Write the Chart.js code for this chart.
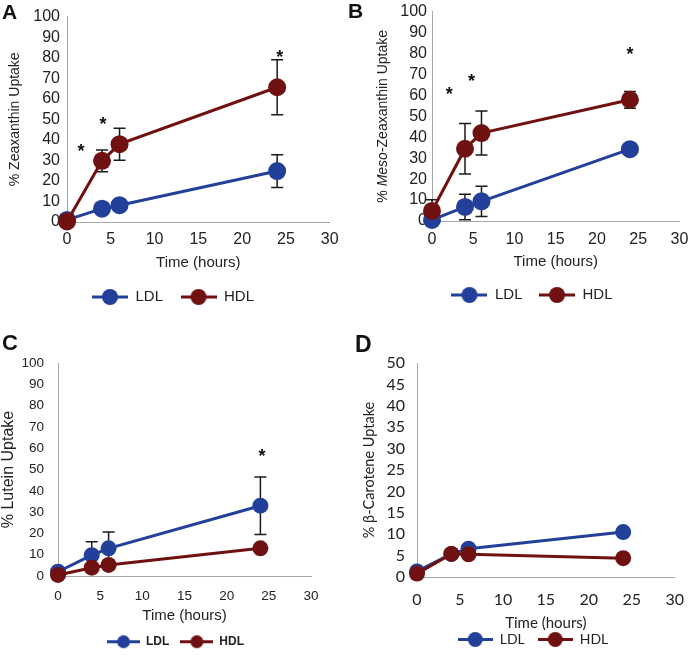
<!DOCTYPE html>
<html><head><meta charset="utf-8">
<script src="https://cdn.jsdelivr.net/npm/chart.js@4.4.1/dist/chart.umd.min.js"></script>
<style>
html,body{margin:0;padding:0;background:#fff;width:697px;height:665px;overflow:hidden;}
.panel{position:absolute;}
.panel canvas{display:block;}
.letter{position:absolute;z-index:5;font-family:"Liberation Sans",Arial,sans-serif;font-weight:bold;line-height:1;color:#111;}
</style></head><body>
<div class="panel" style="left:0px;top:0px"><canvas id="cA" width="347" height="320"></canvas></div>
<div class="panel" style="left:347px;top:-3px"><canvas id="cB" width="350" height="323"></canvas></div>
<div class="panel" style="left:0px;top:320px"><canvas id="cC" width="360" height="345"></canvas></div>
<div class="panel" style="left:347px;top:320px"><canvas id="cD" width="350" height="345"></canvas></div>
<div class="letter" style="left:2px;top:1px;font-size:21px">A</div>
<div class="letter" style="left:348px;top:0px;font-size:21px">B</div>
<div class="letter" style="left:2px;top:332px;font-size:22px">C</div>
<div class="letter" style="left:355px;top:333px;font-size:23px">D</div>
<script>
// ---------- data ----------
const timeHours = [0, 4, 6, 24];
const xTickValues = [0, 5, 10, 15, 20, 25, 30];
const yTicks100 = [0, 10, 20, 30, 40, 50, 60, 70, 80, 90, 100];
const yTicks50 = [0, 5, 10, 15, 20, 25, 30, 35, 40, 45, 50];
const seriesLabels = ['LDL', 'HDL'];

// A: Zeaxanthin
const zeaLDL = [1.0, 6.5, 8.2, 24.8];
const zeaLDLErr = [0, 0, 0, 8.0];
const zeaHDL = [0.3, 29.8, 37.9, 65.6];
const zeaHDLErr = [0, 5.3, 7.8, 13.4];
const zeaStarX = [1.6, 4.1, 24.3];
const zeaStarY = [36.4, 49.7, 82.5];

// B: Meso-Zeaxanthin
const mesoLDL = [0.5, 6.7, 9.4, 34.3];
const mesoLDLErr = [0, 6.1, 7.2, 0];
const mesoHDL = [4.8, 34.5, 42.0, 57.9];
const mesoHDLErr = [5.3, 12.1, 10.5, 4.0];
const mesoStarX = [2.1, 4.8, 24.0];
const mesoStarY = [62.7, 68.9, 81.7];

// C: Lutein
const luteinLDL = [2.0, 9.8, 13.0, 33.0];
const luteinLDLErr = [0, 6.3, 7.6, 13.5];
const luteinHDL = [0.5, 3.9, 5.2, 13.0];
const luteinHDLErr = [0, 0, 0, 0];
const luteinStarX = [24.2];
const luteinStarY = [58.3];

// D: beta-Carotene
const caroteneLDL = [1.3, 5.4, 6.6, 10.5];
const caroteneHDL = [0.8, 5.4, 5.3, 4.4];

// ---------- styling ----------
const BLUE = '#22409A';
const RED = '#701111';
const TEXT = '#222222';
const AXIS = '#a6a6a6';
const ARIAL = '"Liberation Sans", Arial, sans-serif';
const LATO = 'Lato, "Open Sans", sans-serif';

function makeIcon(color, r, lw, w) {
  const c = document.createElement('canvas');
  c.width = w; c.height = Math.ceil(2 * r + 2);
  const g = c.getContext('2d');
  const cy = c.height / 2;
  g.strokeStyle = color; g.lineWidth = lw;
  g.beginPath(); g.moveTo(0, cy); g.lineTo(w, cy); g.stroke();
  g.fillStyle = color;
  g.beginPath(); g.arc(w / 2, cy, r, 0, Math.PI * 2); g.fill();
  return c;
}

const decor = {
  id: 'decor',
  beforeDatasetsDraw(chart, args, opts) {
    const {ctx} = chart;
    const xs = chart.scales.x, ys = chart.scales.y;
    ctx.save();
    ctx.strokeStyle = '#1a1a1a';
    ctx.lineWidth = 1.5;
    chart.data.datasets.forEach((ds) => {
      if (!ds.errors) return;
      ds.data.forEach((pt, j) => {
        const e = ds.errors[j];
        if (!e) return;
        const px = xs.getPixelForValue(pt.x);
        const pTop = ys.getPixelForValue(pt.y + e);
        const pBot = ys.getPixelForValue(Math.max(0, pt.y - e));
        ctx.beginPath();
        ctx.moveTo(px, pTop); ctx.lineTo(px, pBot);
        ctx.moveTo(px - 6, pTop); ctx.lineTo(px + 6, pTop);
        ctx.moveTo(px - 6, pBot); ctx.lineTo(px + 6, pBot);
        ctx.stroke();
      });
    });
    ctx.restore();
  },
  afterDatasetsDraw(chart, args, opts) {
    const {ctx} = chart;
    const xs = chart.scales.x, ys = chart.scales.y;
    if (opts.starX) {
      ctx.save();
      const size = 18;
      ctx.font = 'bold ' + size + 'px ' + ARIAL;
      ctx.fillStyle = '#111';
      ctx.textAlign = 'center';
      ctx.textBaseline = 'alphabetic';
      opts.starX.forEach((sx, i) => {
        const px = xs.getPixelForValue(sx);
        const py = ys.getPixelForValue(opts.starY[i]);
        ctx.fillText('*', px, py + 0.57 * size);
      });
      ctx.restore();
    }
    if (opts.yTitleParts) {
      const ca = chart.chartArea;
      ctx.save();
      ctx.translate(opts.yTitleX, (ca.top + ca.bottom) / 2);
      ctx.rotate(-Math.PI / 2);
      ctx.fillStyle = TEXT;
      ctx.textBaseline = 'middle';
      ctx.textAlign = 'left';
      let total = 0;
      opts.yTitleParts.forEach(p => { ctx.font = p.font; total += ctx.measureText(p.text).width; });
      let x = -total / 2;
      opts.yTitleParts.forEach(p => { ctx.font = p.font; ctx.fillText(p.text, x, 0); x += ctx.measureText(p.text).width; });
      ctx.restore();
    }
  }
};

function makePanel(cfg) {
  const datasets = cfg.series.map(s => ({
    label: s.label,
    data: timeHours.map((t, i) => ({x: t, y: s.values[i]})),
    errors: s.errors,
    borderColor: s.color,
    backgroundColor: s.color,
    pointBackgroundColor: s.color,
    pointBorderColor: s.color,
    pointBorderWidth: 0,
    pointRadius: cfg.pointR,
    pointHoverRadius: cfg.pointR,
    borderWidth: cfg.lineW,
    tension: 0,
    clip: false,
    order: s.order,
    legendIcon: makeIcon(s.color, cfg.iconR, cfg.lineW, cfg.iconW)
  }));
  const yTitle = cfg.yTitle ? {
    display: true, text: cfg.yTitle, color: TEXT, font: cfg.yTitleFont,
    padding: {top: cfg.yTitlePad, bottom: 0}
  } : {display: false};
  const scales = {
    x: {
      type: 'linear', min: 0, max: 30,
      afterBuildTicks: s => { s.ticks = xTickValues.map(v => ({value: v})); },
      afterFit: s => { s.height = cfg.xH; },
      grid: {display: false, drawTicks: false},
      border: {display: true, color: AXIS, width: 1},
      ticks: {padding: cfg.xTickPad, font: cfg.tickFont, color: TEXT, maxRotation: 0, autoSkip: false},
      title: {display: true, text: 'Time (hours)', color: TEXT, font: cfg.xTitleFont,
              padding: {top: 0, bottom: cfg.xTitlePadB}}
    },
    y: {
      type: 'linear', min: 0, max: cfg.yTicks[cfg.yTicks.length - 1],
      afterBuildTicks: s => { s.ticks = cfg.yTicks.map(v => ({value: v})); },
      afterFit: s => { s.width = cfg.yW; },
      grid: {display: false, drawTicks: false},
      border: {display: true, color: AXIS, width: 1},
      ticks: {padding: cfg.yTickPad, font: cfg.tickFont, color: TEXT, autoSkip: false},
      title: yTitle
    }
  };
  if (cfg.rightSpace) {
    // empty right-hand spacer axis so the legend can be centred independently of the plot area
    scales.ySpace = {
      type: 'linear', position: 'right', min: 0, max: 1, display: true,
      afterFit: s => { s.width = cfg.rightSpace; },
      grid: {display: false, drawTicks: false},
      border: {display: false},
      ticks: {display: false},
      title: {display: false}
    };
  }
  new Chart(document.getElementById(cfg.id), {
    type: 'line',
    data: {datasets},
    plugins: [decor],
    options: {
      responsive: false,
      animation: false,
      events: [],
      layout: {padding: cfg.padding},
      scales,
      plugins: {
        tooltip: {enabled: false},
        legend: {
          position: 'bottom',
          labels: {
            usePointStyle: true,
            pointStyleWidth: cfg.iconW,
            padding: cfg.legendPad,
            font: cfg.legendFont,
            color: TEXT,
            generateLabels(chart) {
              const items = Chart.defaults.plugins.legend.labels.generateLabels(chart);
              items.forEach(it => { it.pointStyle = chart.data.datasets[it.datasetIndex].legendIcon; it.lineWidth = 0; });
              return items.sort((a, b) => a.datasetIndex - b.datasetIndex);
            }
          }
        },
        decor: cfg.decor
      }
    }
  });
}

// Panel A
makePanel({
  id: 'cA',
  series: [
    {label: seriesLabels[0], values: zeaLDL, errors: zeaLDLErr, color: BLUE, order: 1},
    {label: seriesLabels[1], values: zeaHDL, errors: zeaHDLErr, color: RED, order: 0}
  ],
  yTicks: yTicks100,
  padding: {left: 12, right: 13, top: 16, bottom: 5.5},
  yW: 55, xH: 50,
  tickFont: {family: ARIAL, size: 16},
  xTitleFont: {family: ARIAL, size: 15},
  yTitle: '% Zeaxanthin Uptake', yTitleFont: {family: ARIAL, size: 14}, yTitlePad: -5.4,
  xTickPad: 8.4, yTickPad: 7, xTitlePadB: 0,
  legendFont: {family: ARIAL, size: 15}, legendPad: 17.5,
  pointR: 9, lineW: 3, iconR: 8, iconW: 36,
  decor: {starX: zeaStarX, starY: zeaStarY}
});

// Panel B
makePanel({
  id: 'cB',
  series: [
    {label: seriesLabels[0], values: mesoLDL, errors: mesoLDLErr, color: BLUE, order: 1},
    {label: seriesLabels[1], values: mesoHDL, errors: mesoHDLErr, color: RED, order: 0}
  ],
  yTicks: yTicks100,
  padding: {left: 37, right: 17, top: 10, bottom: 7.5},
  yW: 48, xH: 50,
  tickFont: {family: ARIAL, size: 16},
  xTitleFont: {family: ARIAL, size: 15},
  yTitle: null,
  xTickPad: 8.7, yTickPad: 5, xTitlePadB: 0,
  legendFont: {family: ARIAL, size: 15}, legendPad: 16.5,
  pointR: 9, lineW: 3, iconR: 8, iconW: 36,
  decor: {
    starX: mesoStarX, starY: mesoStarY,
    yTitleX: 36,
    yTitleParts: [
      {text: '% ', font: '14px ' + ARIAL},
      {text: 'Meso', font: 'italic 14px ' + ARIAL},
      {text: '-Zeaxanthin Uptake', font: '14px ' + ARIAL}
    ]
  }
});

// Panel C
makePanel({
  id: 'cC',
  series: [
    {label: seriesLabels[0], values: luteinLDL, errors: luteinLDLErr, color: BLUE, order: 1},
    {label: seriesLabels[1], values: luteinHDL, errors: luteinHDLErr, color: RED, order: 0}
  ],
  yTicks: yTicks100,
  padding: {left: 0, right: 9, top: 43, bottom: 7.3},
  yW: 58, xH: 48.7, rightSpace: 40,
  tickFont: {family: ARIAL, size: 13.5},
  xTitleFont: {family: ARIAL, size: 15},
  yTitle: '% Lutein Uptake', yTitleFont: {family: ARIAL, size: 16}, yTitlePad: -1.3,
  xTickPad: 12.6, yTickPad: 14, xTitlePadB: 0,
  legendFont: {family: ARIAL, size: 12, weight: 'bold'}, legendPad: 11,
  pointR: 8, lineW: 3, iconR: 6.5, iconW: 33,
  decor: {starX: luteinStarX, starY: luteinStarY}
});

// Panel D
makePanel({
  id: 'cD',
  series: [
    {label: seriesLabels[0], values: caroteneLDL, errors: null, color: BLUE, order: 1},
    {label: seriesLabels[1], values: caroteneHDL, errors: null, color: RED, order: 0}
  ],
  yTicks: yTicks50,
  padding: {left: 33, right: 11, top: 43, bottom: 8.5},
  yW: 37, xH: 42.5,
  tickFont: {family: LATO, size: 16},
  xTitleFont: {family: LATO, size: 15},
  yTitle: '% β-Carotene Uptake', yTitleFont: {family: LATO, size: 14.5}, yTitlePad: -19.7,
  xTickPad: 13, yTickPad: 12, xTitlePadB: -12.9,
  legendFont: {family: LATO, size: 14}, legendPad: 13,
  pointR: 8, lineW: 3, iconR: 7.5, iconW: 35,
  decor: {}
});
</script>
</body></html>
